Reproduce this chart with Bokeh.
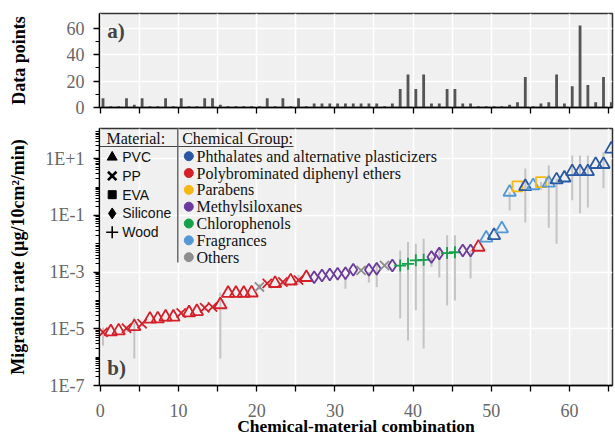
from bokeh.plotting import figure
from bokeh.layouts import column
from bokeh.models import (Range1d, FixedTicker, CustomJSTickFormatter, ColumnDataSource, Label)
from bokeh.core.properties import value
from bokeh.transform import dodge
from bokeh.embed import file_html
from bokeh.resources import INLINE
import numpy as np

# ---------------- data ----------------
combo = list(range(66))
data_points = [7, 1, 1, 7, 2, 7, 1, 1, 7, 1, 7, 1, 1, 7, 7, 2, 1, 1, 1, 1, 1, 7, 1, 7, 1, 7, 1,
               3, 3, 3, 3, 3, 3, 3, 3, 3, 1, 3, 14, 25, 14, 25, 3, 3, 14, 14, 3, 3, 1, 1, 1, 1,
               2, 4, 23, 1, 3, 4, 25, 3, 16, 62, 17, 4, 23, 4]
rate = [7.6e-6, 7.9e-6, 8.5e-6, 1.05e-5, 1.2e-5, 1.5e-5, 2.2e-5, 2.25e-5, 2.6e-5, 2.6e-5,
        3.6e-5, 3.7e-5, 4.1e-5, 5.5e-5, 5.9e-5, 7.1e-5, 1.8e-4, 1.8e-4, 1.8e-4, 1.85e-4,
        3.0e-4, 4.0e-4, 4.0e-4, 4.5e-4, 4.9e-4, 5.2e-4, 6.5e-4, 6.6e-4, 7.6e-4, 8.3e-4,
        8.7e-4, 9.1e-4, 1.2e-3, 1.15e-3, 1.2e-3, 1.3e-3, 1.7e-3, 1.7e-3, 1.7e-3, 1.95e-3,
        2.6e-3, 2.7e-3, 3.4e-3, 4.5e-3, 4.7e-3, 5.0e-3, 5.8e-3, 5.8e-3, 7.6e-3, 1.6e-2,
        1.95e-2, 3.4e-2, 0.66, 1.05, 1.05, 1.12, 1.48, 1.38, 1.8, 2.1,
        3.5, 3.5, 3.5, 6.3, 6.3, 22.0]
err_low = [2.5e-6, None, None, 7.5e-6, 9e-7, 1.2e-5, None, None, None, None,
           3.0e-5, None, None, 4.3e-5, None, 9e-7, None, None, None, None,
           2.4e-4, None, None, 3.3e-4, None, 3.6e-4, None, None, None, None,
           None, 2.6e-4, None, None, 4.3e-4, 2.9e-4, None, None, 2.3e-5, 3.9e-6,
           4.5e-5, 2.0e-6, 1.5e-3, 6.5e-4, 6.6e-5, 1.0e-4, None, 5.9e-4, None, None,
           None, None, 0.15, None, 0.056, None, 0.8, 0.037, 0.01, None,
           0.34, 0.12, 0.19, None, 0.9, None]
err_high = [1.1e-5, None, None, 1.3e-5, 2.5e-5, 1.8e-5, None, None, None, None,
            4.3e-5, None, None, 6.8e-5, None, 1.9e-4, None, None, None, None,
            3.8e-4, None, None, 5.3e-4, None, 8.0e-4, None, None, None, None,
            None, 6.5e-4, None, None, 1.0e-3, 2.2e-3, None, None, 5.8e-3, 1.15e-2,
            1.0e-2, 1.5e-2, 3.4e-3, 7.4e-3, 2.0e-2, 2.0e-2, None, 5.8e-3, None, None,
            None, None, 0.66, None, 4.5, None, 1.5, 5.8, 2.0, None,
            12.9, 12.9, 12.9, None, 17.0, None]
group = (["PBDE"] * 20 + ["OTH"] + ["PBDE"] * 6 + ["MSX"] * 6 + ["OTH"] + ["MSX"] * 2 + ["OTH"]
         + ["MSX"] + ["CP"] * 4 + ["MSX"] * 2 + ["CP"] * 2 + ["MSX"] * 2 + ["PBDE", "FRG", "PHT",
         "FRG", "FRG", "PAR", "PHT", "FRG", "PAR", "FRG"] + ["PHT"] * 8)
material = (["PP", "PVC", "PVC", "PP", "PVC", "PP", "PVC", "PVC", "PVC", "PVC", "PP", "PVC", "PVC",
             "PP", "PP", "PVC", "PVC", "PVC", "PVC", "PVC", "PP", "PP", "PVC", "PP", "PVC", "PP",
             "PVC"] + ["Silicone"] * 6 + ["PP"] + ["Silicone"] * 2 + ["PP"] + ["Silicone"]
            + ["Wood"] * 4 + ["Silicone"] * 2 + ["Wood"] * 2 + ["Silicone"] * 2
            + ["PVC"] * 5 + ["EVA", "PVC", "PVC", "EVA"] + ["PVC"] * 9)

group_keys = ["PHT", "PBDE", "PAR", "MSX", "CP", "FRG", "OTH"]
group_names = ["Phthalates and alternative plasticizers", "Polybrominated diphenyl ethers",
               "Parabens", "Methylsiloxanes", "Chlorophenols", "Fragrances", "Others"]
group_colors = ["#2B58A3", "#D5202A", "#F7B712", "#6B3A9C", "#15A04C", "#5598D6", "#8E8E8E"]
materials = ["PVC", "PP", "EVA", "Silicone", "Wood"]
material_markers = ["triangle", "x", "square", "diamond", "cross"]
material_sizes = [12.5, 13, 10, 12, 12]
legend_marker_sizes = [10, 12, 8, 11, 12]
legend_marker_widths = [1, 2.6, 1, 1, 1.6]

# ---------------- styling helpers ----------------
SERIF = "Liberation Serif"
SANS = "Liberation Sans"
BG = "#f0f0f0"
X0, X1 = -0.1, 65.5
Y0, Y1 = 1e-7, 116.0
XOFF = 0.35
xgrid_ticks = list(range(0, 66, 5))
xmajor = list(range(0, 61, 10))
xminor = list(range(5, 66, 10))

# bottom frame geometry (pixels) used to place the hand-made legend
FL, FT, FW, FH = 99, 128, 513, 257
FB = FT + FH


def sx_to_x(px):
    return X0 + (px - FL) * (X1 - X0) / FW


def sy_to_y(py):
    ly0, ly1 = np.log10(Y0), np.log10(Y1)
    return 10 ** (ly0 + (FB - py) * (ly1 - ly0) / FH)


col_of = dict(zip(group_keys, group_colors))
mk_of = dict(zip(materials, material_markers))
sz_of = dict(zip(materials, material_sizes))


def style(p):
    p.background_fill_color = BG
    p.border_fill_color = "white"
    p.outline_line_color = "#333333"
    p.outline_line_width = 1.5
    p.grid.grid_line_color = "white"
    p.grid.grid_line_width = 1.6
    for ax in p.axis:
        ax.axis_line_color = "black"
        ax.axis_line_width = 1.3
        ax.major_tick_line_color = "black"
        ax.minor_tick_line_color = "black"
        ax.major_tick_line_width = 1.3
        ax.minor_tick_line_width = 1.0
        ax.major_tick_out = 6
        ax.major_tick_in = 0
        ax.minor_tick_out = 4
        ax.minor_tick_in = 0
        ax.major_label_text_font = SERIF
        ax.major_label_text_font_size = "18px"
        ax.major_label_text_color = "#666666"
        ax.axis_label_text_font = SERIF
        ax.axis_label_text_font_size = "18px"
        ax.axis_label_text_font_style = "bold"
        ax.axis_label_text_color = "black"


# ---------------- top panel ----------------
top = figure(frame_width=FW, frame_height=94, min_border_left=FL, min_border_right=3,
             min_border_top=13, min_border_bottom=11, x_range=Range1d(X0, X1),
             y_range=Range1d(0, 71), toolbar_location=None, output_backend="svg")
style(top)
bar_src = ColumnDataSource(dict(combo=combo, n=data_points))
top.vbar(x=dodge("combo", XOFF, range=top.x_range), top="n", width=0.36, bottom=0,
         source=bar_src, fill_color="#555555", line_color=None)
top.xaxis.ticker = FixedTicker(ticks=[], minor_ticks=xgrid_ticks)
top.xaxis.minor_tick_out = 6
top.xaxis.minor_tick_line_width = 1.3
top.xaxis.major_label_standoff = 0
top.xgrid.ticker = FixedTicker(ticks=xgrid_ticks)
top.yaxis.ticker = FixedTicker(ticks=[0, 20, 40, 60], minor_ticks=[10, 30, 50])
top.yaxis.axis_label = "Data points"
top.yaxis.major_label_standoff = 9
top.yaxis.axis_label_standoff = 35
top.add_layout(Label(x=0.9, y=58, text="a)", text_font=SERIF, text_font_size="21px",
                     text_font_style="bold", text_baseline="middle"))

# ---------------- bottom panel ----------------
bot = figure(frame_width=FW, frame_height=FH, min_border_left=FL, min_border_right=3,
             min_border_top=FT - 118, min_border_bottom=48, x_range=Range1d(X0, X1),
             y_range=Range1d(Y0, Y1), y_axis_type="log", toolbar_location=None,
             output_backend="svg")
style(bot)
bot.xaxis.ticker = FixedTicker(ticks=xmajor, minor_ticks=xminor)
bot.xaxis.minor_tick_out = 6
bot.xaxis.minor_tick_line_width = 1.3
bot.xgrid.ticker = FixedTicker(ticks=xgrid_ticks)
bot.xaxis.axis_label = "Chemical-material combination"
bot.xaxis.axis_label_text_font_size = "17.5px"
bot.xaxis.major_label_standoff = 12
bot.xaxis.axis_label_standoff = -4
majors = [1e-7, 1e-5, 1e-3, 1e-1, 1e1]
minors = [m * 10.0 ** k for k in range(-7, 2) for m in range(1, 10)]
minors = [v for v in minors if v not in majors]
bot.yaxis.ticker = FixedTicker(ticks=majors, minor_ticks=minors)
bot.yaxis.formatter = CustomJSTickFormatter(
    code="const e = Math.round(Math.log10(tick)); return '1E' + (e > 0 ? '+' : '') + e;")
bot.yaxis.axis_label = "Migration rate (µg/10cm²/min)"
bot.yaxis.major_label_standoff = 9
bot.yaxis.axis_label_standoff = 14

src = ColumnDataSource(dict(
    combo=combo, rate=rate,
    lo=np.array(err_low, dtype=float), hi=np.array(err_high, dtype=float),
    color=[col_of[g] for g in group],
    marker=[mk_of[m] for m in material],
    size=[sz_of[m] for m in material]))
xd = dodge("combo", XOFF, range=bot.x_range)
bot.segment(x0=xd, y0="lo", x1=xd, y1="hi", source=src, line_color="#c4c4c4", line_width=2)
bot.scatter(x=xd, y="rate", marker="marker", size="size", source=src, line_color="color",
            fill_alpha=0, line_width=1.8)

# ---------------- hand-made two-column legend ----------------
# header underline and column separator
bot.segment(x0=[X0], y0=[sy_to_y(146)], x1=[sx_to_x(293)], y1=[sy_to_y(146)],
            line_color="#444444", line_width=1.2)
bot.segment(x0=[sx_to_x(177.3)], y0=[Y1], x1=[sx_to_x(177.3)], y1=[sy_to_y(262)],
            line_color="#666666", line_width=1.5)
bot.text(x=[sx_to_x(106), sx_to_x(181.7)], y=[sy_to_y(138)] * 2,
         text=["Material:", "Chemical Group:"], text_font=value(SERIF), text_font_size="16px",
         text_baseline="middle", text_color="#111111")

mat_y = [sy_to_y(156.7 + 18.75 * k) for k in range(len(materials))]
mat_src = ColumnDataSource(dict(x=[sx_to_x(111.7)] * len(materials), y=mat_y,
                                marker=material_markers, size=legend_marker_sizes,
                                lw=legend_marker_widths,
                                tx=[sx_to_x(121.7)] * len(materials), label=materials))
bot.scatter(x="x", y="y", marker="marker", size="size", line_width="lw", source=mat_src,
            fill_color="black", line_color="black")
bot.text(x="tx", y="y", text="label", source=mat_src, text_font=value(SANS),
         text_font_size="14px", text_baseline="middle", text_color="#111111")

grp_y = [sy_to_y(155.7 + 16.83 * k) for k in range(len(group_names))]
grp_src = ColumnDataSource(dict(x=[sx_to_x(188.3)] * len(group_names), y=grp_y,
                                color=group_colors, tx=[sx_to_x(196)] * len(group_names),
                                label=group_names))
bot.scatter(x="x", y="y", marker="circle", size=9, source=grp_src, fill_color="color",
            line_color="color")
bot.text(x="tx", y="y", text="label", source=grp_src, text_font=value(SERIF),
         text_font_size="16px", text_baseline="middle", text_color="#111111")

bot.add_layout(Label(x=0.9, y=4e-7, text="b)", text_font=SERIF, text_font_size="21px",
                     text_font_style="bold", text_baseline="middle"))

layout = column(top, bot, spacing=0)
open("out.html", "w").write(file_html(layout, INLINE))
